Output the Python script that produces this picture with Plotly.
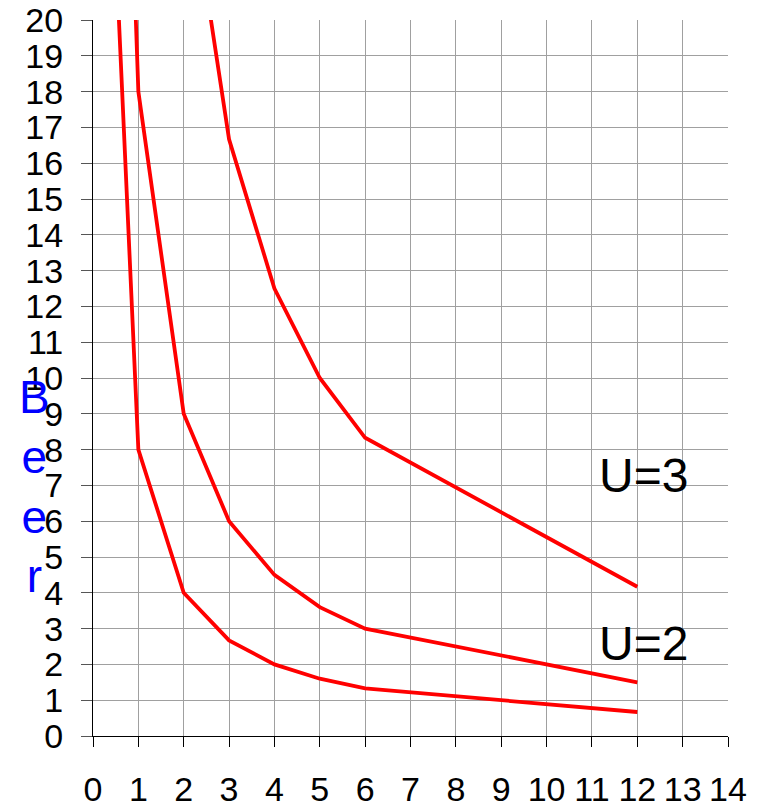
import plotly.graph_objects as go

# Data
x_vals = [0.5, 1, 2, 3, 4, 5, 6, 12]
u1_vals = [22.0, 8.0, 4.0, 2.67, 2.0, 1.6, 1.33, 0.67]
u2_vals = [36.0, 18.0, 9.0, 6.0, 4.5, 3.6, 3.0, 1.5]
u3_vals = [100.0, 50.0, 25.0, 16.67, 12.5, 10.0, 8.33, 4.17]
x_ticks = list(range(0, 15))
y_ticks = list(range(0, 21))
labels = ["U=3", "U=2"]
label_x = [12.14, 12.13]
label_y = [7.29, 2.57]

FONT = "Liberation Sans, Arial, sans-serif"

fig = go.Figure()
for ys in (u1_vals, u2_vals, u3_vals):
    fig.add_trace(go.Scatter(x=x_vals, y=ys, mode="lines",
                             line=dict(color="#ff0000", width=3.8),
                             showlegend=False, hoverinfo="skip"))

for t, lx, ly in zip(labels, label_x, label_y):
    fig.add_annotation(x=lx, y=ly, xref="x", yref="y", text=t, showarrow=False,
                       font=dict(family=FONT, size=48, color="black"))

fig.add_annotation(xref="paper", yref="paper", x=-0.092, y=0.349, text="B<br>e<br>e<br>r",
                   showarrow=False, xanchor="center", yanchor="middle",
                   font=dict(family=FONT, size=46, color="#0000ff"))

fig.update_layout(
    width=758, height=797,
    margin=dict(l=85, r=38, t=12, b=69, autoexpand=False),
    paper_bgcolor="white", plot_bgcolor="white",
    font=dict(family=FONT, color="black"),
)
fig.update_xaxes(range=[0, 14], tickvals=x_ticks, ticktext=[str(v) for v in x_ticks],
                 showgrid=True, gridcolor="#a0a0a0", gridwidth=1, automargin=False,
                 showline=True, linecolor="black", linewidth=1,
                 ticks="outside", ticklen=10, tickcolor="black", tickwidth=1,
                 tickfont=dict(size=34, family=FONT, color="black"),
                 ticklabelstandoff=13, ticklabeloverflow="allow", zeroline=False)
fig.update_yaxes(range=[0, 20], tickvals=y_ticks, ticktext=[str(v) for v in y_ticks],
                 showgrid=True, gridcolor="#a0a0a0", gridwidth=1, automargin=False,
                 showline=True, linecolor="black", linewidth=1,
                 ticks="outside", ticklen=11, tickcolor="#555555", tickwidth=1,
                 tickfont=dict(size=34, family=FONT, color="black"),
                 ticklabelstandoff=11, ticklabeloverflow="allow", zeroline=False)

fig.write_html("out.html")
